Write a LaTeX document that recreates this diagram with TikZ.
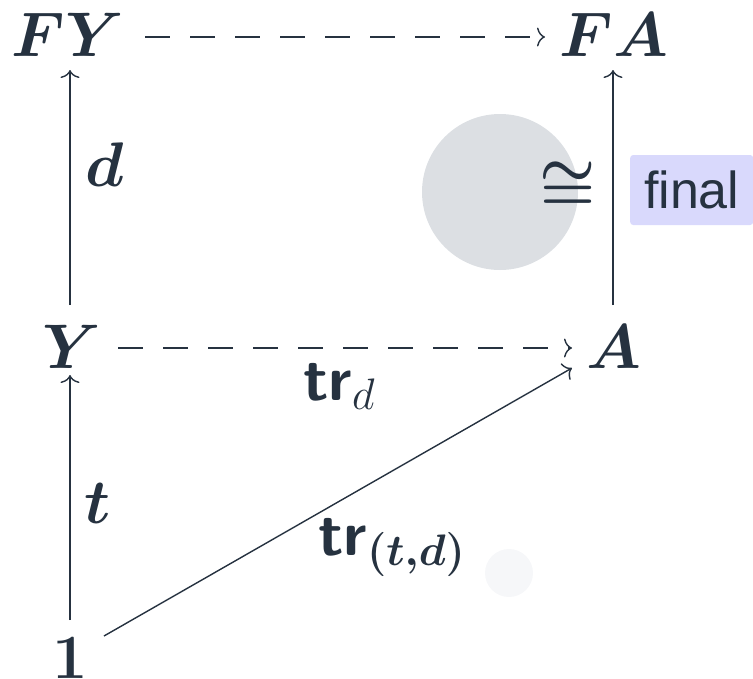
\RequirePackage{fix-cm}
\documentclass[tikz,border=0pt]{standalone}
\usepackage{amsmath,amssymb,bm}
\usepackage{fontspec}
\newfontfamily\finalfont{Liberation Sans}
\usetikzlibrary{arrows.meta}
\definecolor{ink}{HTML}{263240}
\definecolor{blob}{HTML}{DCDFE3}
\definecolor{faint}{HTML}{F6F7F9}
\definecolor{tagbg}{HTML}{D9D9FC}
\tikzset{
  obj/.style={inner sep=0pt, anchor=base, text=ink, font=\fontsize{63}{70}\selectfont\boldmath},
  lbl/.style={inner sep=0pt, text=ink, font=\fontsize{63}{70}\selectfont\boldmath},
  plainlbl/.style={inner sep=0pt, text=ink, font=\fontsize{63}{70}\selectfont},
  arr/.style={draw=ink, line width=1.4pt, -{To[length=8pt,width=19pt]}},
  darr/.style={arr, dash pattern=on 25pt off 20pt},
}
\newcommand{\trname}{\textsf{\bfseries tr}}
\begin{document}
\begin{tikzpicture}[x=1pt,y=-1pt]
\useasboundingbox (0,0) rectangle (753,678);
\fill[blob] (500,192) circle (78);
\fill[faint] (509,573) circle (24);
\node[obj] (FY) at (68,56) {$FY$};
\node[obj] (FA) at (614,56) {$FA$};
\node[obj] (Y) at (72,368) {$Y$};
\node[obj] (A) at (614,368) {$A$};
\node[obj] (one) at (70,678) {$1$};
\coordinate (ytop) at (70,70);
\coordinate (ybot) at (70,305);
\coordinate (atop) at (613,70);
\coordinate (abot) at (613,305);
\coordinate (otop) at (70,620);
\coordinate (yb) at (70,375);
\coordinate (fys) at (145,37);
\coordinate (fae) at (545,37);
\coordinate (ys) at (118,348);
\coordinate (ae) at (572,348);
\coordinate (os) at (104,636);
\coordinate (ad) at (572,368);
\draw[arr] (ybot) -- (ytop);
\draw[arr] (abot) -- (atop);
\draw[arr] (otop) -- (yb);
\draw[darr] (fys) -- (fae);
\draw[darr] (ys) -- (ae);
\draw[arr] (os) -- (ad);
\node[lbl] (dl) at (105,165) {$d$};
\node[lbl] (tl) at (98,503) {$t$};
\node[lbl] (iso) at (568,186) {$\cong$};
\node[inner sep=0pt, fill=tagbg, rounded corners=3pt, minimum width=123pt, minimum height=70pt, anchor=west, text=ink, font=\fontsize{52}{58}\finalfont] (fin) at (630,190) {final};
\node[plainlbl, anchor=base west] (trd) at (303,400) {$\trname_{d}$};
\node[lbl, anchor=base west] (trtd) at (318,555) {$\trname_{(t,d)}$};
\end{tikzpicture}
\end{document}
